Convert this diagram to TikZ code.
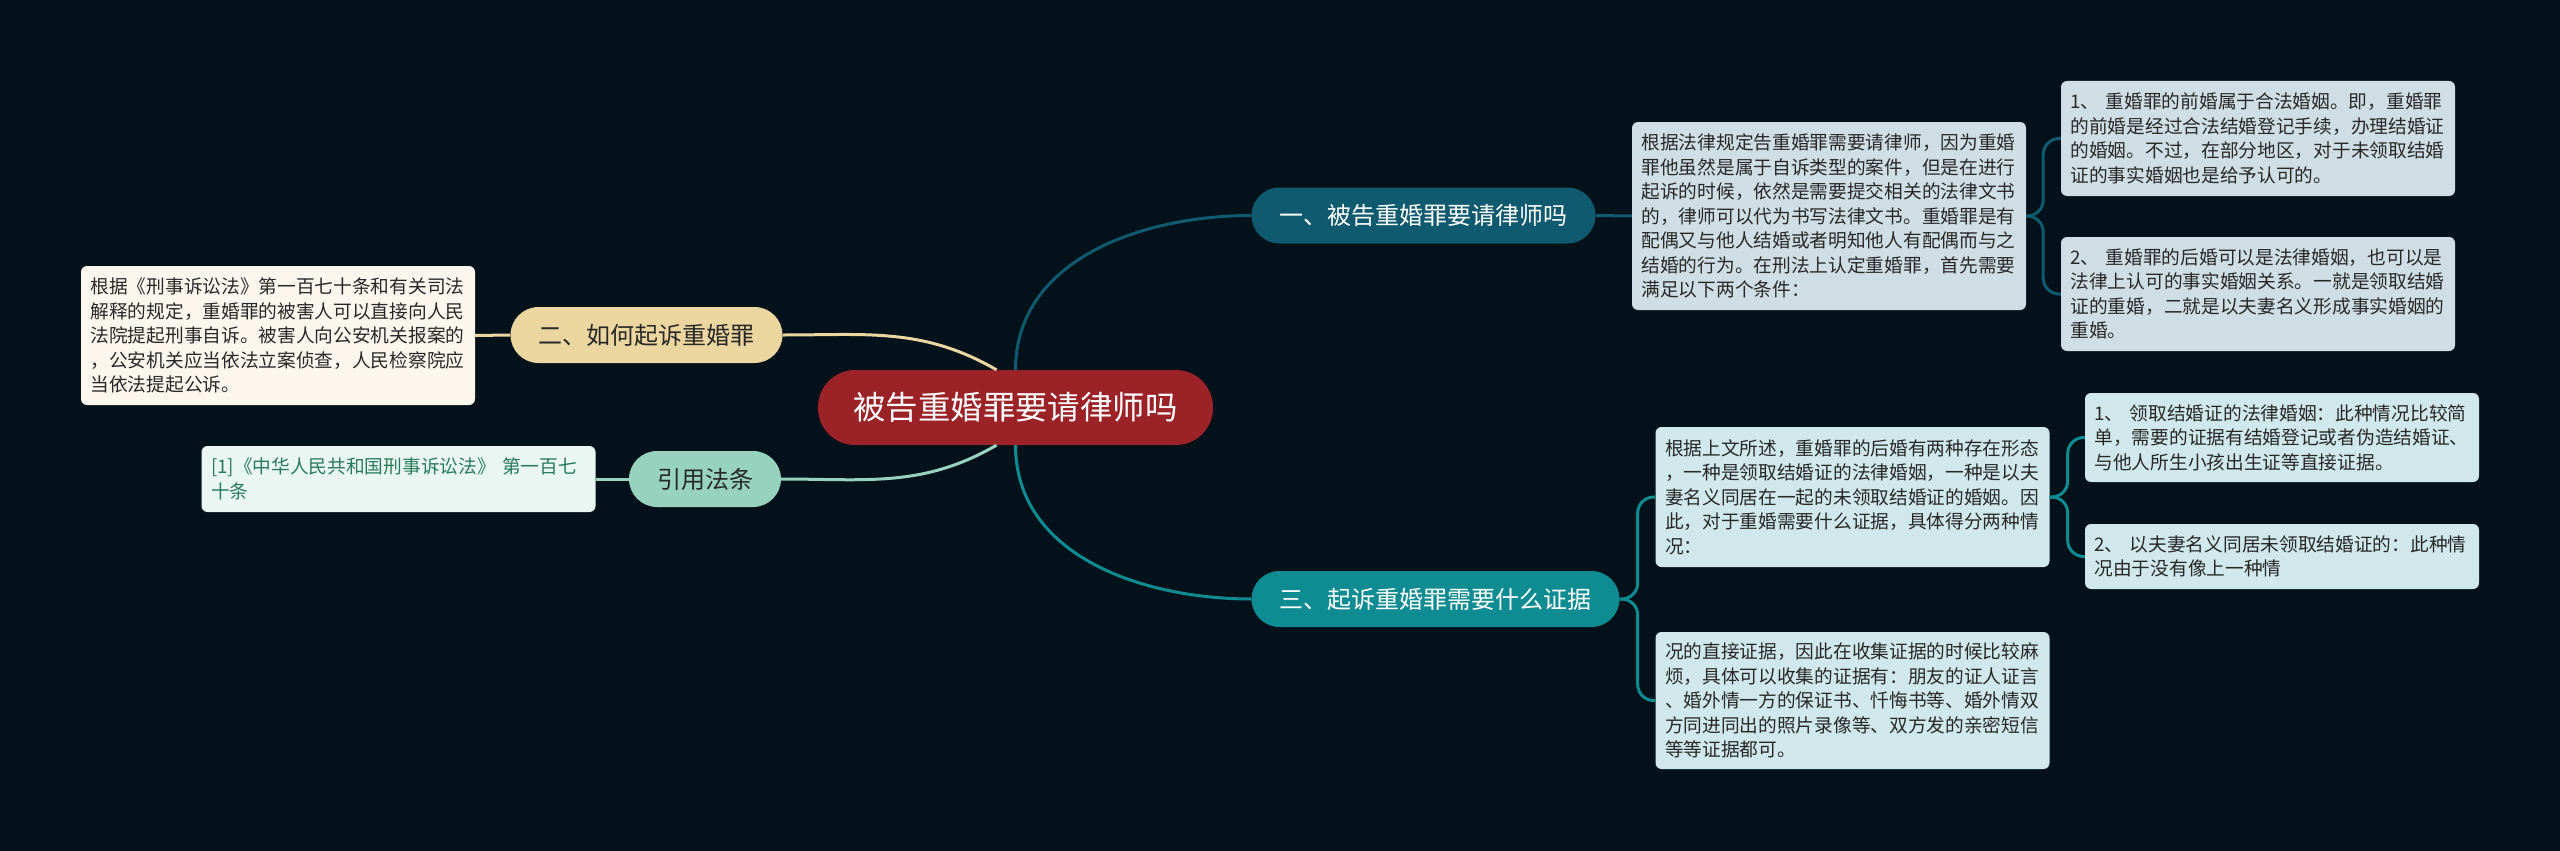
\documentclass[tikz,border=0pt]{standalone}
\usepackage{fontspec}
\newfontfamily\zhfont{Noto Sans CJK SC}
\definecolor{nightnavy}{RGB}{3, 17, 26}
\definecolor{topicred}{RGB}{155, 34, 38}
\definecolor{petrol}{RGB}{15, 90, 110}
\definecolor{lagoon}{RGB}{14, 140, 146}
\definecolor{sandbeige}{RGB}{235, 214, 160}
\definecolor{mintgreen}{RGB}{150, 210, 190}
\definecolor{mistblue}{RGB}{206, 222, 228}
\definecolor{paleaqua}{RGB}{208, 232, 236}
\definecolor{creamwhite}{RGB}{252, 247, 238}
\definecolor{palemint}{RGB}{234, 246, 242}
\definecolor{lawgreen}{RGB}{40, 122, 92}
\definecolor{inkgray}{RGB}{40, 40, 40}
\usetikzlibrary{positioning, calc}

\begin{document}
\begin{tikzpicture}[x=1pt, y=-1pt,
    topic/.style={fill=topicred, text=white, rounded corners=37pt, minimum height=75pt,
        minimum width=395pt, font=\zhfont\fontsize{32.4}{36}\selectfont},
    branch/.style={rounded corners=28pt, minimum height=56pt, inner xsep=28pt,
        font=\zhfont\fontsize{24}{28}\selectfont},
    leaf/.style={rounded corners=6pt, text width=375pt, align=left, inner xsep=9.5pt,
        inner ysep=4pt, text=inkgray, font=\zhfont\fontsize{18.7}{24.5}\selectfont},
    link/.style={line width=3pt},
    bracket/.style={line width=3pt, rounded corners=16pt}]

    % Canvas
    \useasboundingbox (0,0) rectangle (2560,851);
    \fill[nightnavy] (0,0) rectangle (2560,851);

    % Central topic
    \node[topic] (topic) at (1015.5,407.5) {被告重婚罪要请律师吗};

    % Branches
    \node[branch, fill=petrol, text=white] (ask) at (1423.5,215.5) {一、被告重婚罪要请律师吗};
    \node[branch, fill=lagoon, text=white] (proof) at (1435.5,599) {三、起诉重婚罪需要什么证据};
    \node[branch, fill=sandbeige, text=inkgray] (sue) at (646.5,335) {二、如何起诉重婚罪};
    \node[branch, fill=mintgreen, text=inkgray] (cite) at (705,479) {引用法条};

    % Leaves of branch one
    \node[leaf, fill=mistblue, minimum height=188pt] (askinfo) at (1829,216)
        {根据法律规定告重婚罪需要请律师，因为重婚\\罪他虽然是属于自诉类型的案件，但是在进行\\起诉的时候，依然是需要提交相关的法律文书\\的，律师可以代为书写法律文书。重婚罪是有\\配偶又与他人结婚或者明知他人有配偶而与之\\结婚的行为。在刑法上认定重婚罪，首先需要\\满足以下两个条件：};
    \node[leaf, fill=mistblue, minimum height=115pt] (askone) at (2258,138.5)
        {1、 重婚罪的前婚属于合法婚姻。即，重婚罪\\的前婚是经过合法结婚登记手续，办理结婚证\\的婚姻。不过，在部分地区，对于未领取结婚\\证的事实婚姻也是给予认可的。};
    \node[leaf, fill=mistblue, minimum height=114pt] (asktwo) at (2258,294)
        {2、 重婚罪的后婚可以是法律婚姻，也可以是\\法律上认可的事实婚姻关系。一就是领取结婚\\证的重婚，二就是以夫妻名义形成事实婚姻的\\重婚。};

    % Leaves of branch three
    \node[leaf, fill=paleaqua, minimum height=140pt] (proofinfo) at (1852.5,497)
        {根据上文所述，重婚罪的后婚有两种存在形态\\，一种是领取结婚证的法律婚姻，一种是以夫\\妻名义同居在一起的未领取结婚证的婚姻。因\\此，对于重婚需要什么证据，具体得分两种情\\况：};
    \node[leaf, fill=paleaqua, minimum height=89pt] (proofone) at (2282,437.5)
        {1、 领取结婚证的法律婚姻：此种情况比较简\\单，需要的证据有结婚登记或者伪造结婚证、\\与他人所生小孩出生证等直接证据。};
    \node[leaf, fill=paleaqua, minimum height=65pt] (prooftwo) at (2282,556.5)
        {2、 以夫妻名义同居未领取结婚证的：此种情\\况由于没有像上一种情};
    \node[leaf, fill=paleaqua, minimum height=137pt] (proofmore) at (1852.5,700.5)
        {况的直接证据，因此在收集证据的时候比较麻\\烦，具体可以收集的证据有：朋友的证人证言\\、婚外情一方的保证书、忏悔书等、婚外情双\\方同进同出的照片录像等、双方发的亲密短信\\等等证据都可。};

    % Left leaves
    \node[leaf, fill=creamwhite, minimum height=139pt] (suetext) at (278,335.5)
        {根据《刑事诉讼法》第一百七十条和有关司法\\解释的规定，重婚罪的被害人可以直接向人民\\法院提起刑事自诉。被害人向公安机关报案的\\，公安机关应当依法立案侦查，人民检察院应\\当依法提起公诉。};
    \node[leaf, fill=palemint, text=lawgreen, minimum height=66pt] (citetext) at (398.5,479)
        {[1]《中华人民共和国刑事诉讼法》 第一百七\\十条};

    % Links from the topic
    \draw[link, petrol] (topic.north) to[out=90, in=180] (ask.west);
    \draw[link, lagoon] (topic.south) to[out=-90, in=180] (proof.west);
    \draw[link, sandbeige] ([xshift=-19pt]topic.north) to[out=150, in=0] (sue.east);
    \draw[link, mintgreen] ([xshift=-19pt]topic.south) to[out=-150, in=0] (cite.east);

    % Links to the leaves
    \draw[link, petrol] (ask.east) -- (askinfo.west);
    \draw[bracket, petrol] (askinfo.east) -- ++(17,0) |- (askone.west);
    \draw[bracket, petrol] (askinfo.east) -- ++(17,0) |- (asktwo.west);
    \draw[bracket, lagoon] (proof.east) -- ++(18,0) |- (proofinfo.west);
    \draw[bracket, lagoon] (proof.east) -- ++(18,0) |- (proofmore.west);
    \draw[bracket, lagoon] (proofinfo.east) -- ++(18,0) |- (proofone.west);
    \draw[bracket, lagoon] (proofinfo.east) -- ++(18,0) |- (prooftwo.west);
    \draw[link, sandbeige] (suetext.east) -- (sue.west);
    \draw[link, mintgreen] (citetext.east) -- (cite.west);
\end{tikzpicture}
\end{document}
